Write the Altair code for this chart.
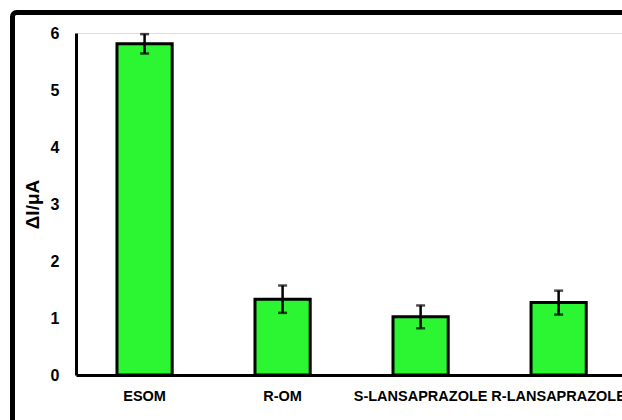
import altair as alt
import pandas as pd

# Measured response (ΔI, μA) for each analyte, with standard deviation
analytes = ["ESOM", "R-OM", "S-LANSAPRAZOLE", "R-LANSAPRAZOLE"]
delta_i = [5.81, 1.33, 1.02, 1.27]
std_dev = [0.17, 0.24, 0.20, 0.21]

df = pd.DataFrame({"analyte": analytes, "value": delta_i, "sd": std_dev})
df["lo"] = df["value"] - df["sd"]
df["hi"] = df["value"] + df["sd"]

FONT = "Liberation Sans"
GREEN = "#2cf531"

x_enc = alt.X(
    "analyte:N",
    sort=analytes,
    title=None,
    scale=alt.Scale(paddingInner=0.6, paddingOuter=0.278, align=0.534),
    axis=alt.Axis(
        labelAngle=0,
        labelFont=FONT,
        labelFontSize=14.5,
        labelFontWeight="bold",
        labelColor="black",
        labelPadding=14,
        ticks=False,
        domainColor="black",
        domainWidth=3,
        labelOverlap=False,
        labelLimit=0,
    ),
)

y_scale = alt.Scale(domain=[0, 6], nice=False)

base = alt.Chart(df)

bars = base.mark_bar(fill=GREEN, stroke="black", strokeWidth=3).encode(
    x=x_enc,
    y=alt.Y(
        "value:Q",
        scale=y_scale,
        title="ΔI/μA",
        axis=alt.Axis(
            values=[0, 1, 2, 3, 4, 5, 6],
            format="d",
            grid=False,
            ticks=False,
            labelFont=FONT,
            labelFontSize=16,
            labelFontWeight="bold",
            labelColor="black",
            labelPadding=17,
            domainColor="black",
            domainWidth=3,
            titleFont=FONT,
            titleFontSize=19,
            titleFontWeight="bold",
            titleColor="black",
            titleAngle=270,
            titleX=-44,
            titleY=171,
            titleAlign="center",
            titleBaseline="middle",
        ),
    ),
)

whisker = base.mark_rule(color="black", strokeWidth=2.5).encode(
    x=alt.X("analyte:N", sort=analytes),
    y=alt.Y("lo:Q", scale=y_scale),
    y2="hi:Q",
)

cap_lo = base.mark_tick(color="black", size=9, thickness=2.5, orient="horizontal").encode(
    x=alt.X("analyte:N", sort=analytes),
    y=alt.Y("lo:Q", scale=y_scale),
)
cap_hi = base.mark_tick(color="black", size=9, thickness=2.5, orient="horizontal").encode(
    x=alt.X("analyte:N", sort=analytes),
    y=alt.Y("hi:Q", scale=y_scale),
)

# Outer border drawn around the whole figure
frame = alt.Chart(pd.DataFrame({"k": [0]})).mark_rect(
    fill="transparent", stroke="black", strokeWidth=5, cornerRadius=4
).encode(
    x=alt.value(-63.5),
    x2=alt.value(700),
    y=alt.value(-20.5),
    y2=alt.value(500),
)

chart = (
    alt.layer(frame, bars, whisker, cap_lo, cap_hi)
    .properties(
        width=546,
        height=342,
        autosize=alt.AutoSizeParams(type="none"),
        padding={"left": 76, "top": 33, "right": 0, "bottom": 45},
    )
    .configure_view(stroke=None)
    .configure(background="white")
)

chart.save("out.html", embed_options={"renderer": "svg", "actions": False})
